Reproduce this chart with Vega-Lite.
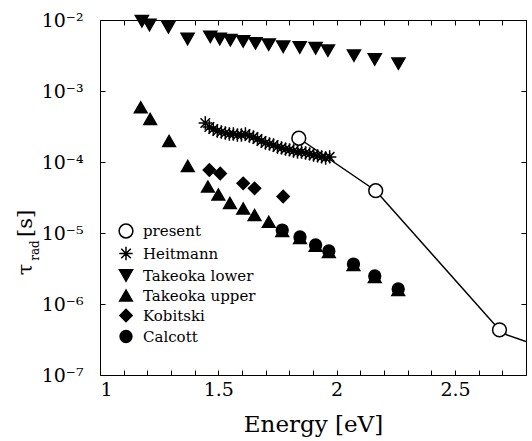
{
  "$schema": "https://vega.github.io/schema/vega-lite/v6.json",
  "width": 426,
  "height": 355,
  "autosize": {"type": "none"},
  "padding": {"left": 100, "top": 20, "right": 6, "bottom": 66},
  "background": "white",
  "config": {
    "font": "DejaVu Serif",
    "view": {"stroke": null},
    "axis": {
      "grid": false,
      "domainColor": "black",
      "domainWidth": 1,
      "tickColor": "black",
      "tickWidth": 1,
      "tickSize": -5,
      "labelColor": "black",
      "labelFont": "DejaVu Serif",
      "labelFontSize": 19,
      "titleColor": "black",
      "titleFont": "DejaVu Serif",
      "titleFontWeight": "normal",
      "labelOverlap": false
    },
    "legend": {"labelFont": "DejaVu Serif"}
  },
  "datasets": {
    "fit": [
      {"E": 1.840, "tau": 2.16e-4},
      {"E": 2.165, "tau": 3.94e-5},
      {"E": 2.688, "tau": 4.31e-7},
      {"E": 2.720, "tau": 3.66e-7},
      {"E": 2.800, "tau": 2.97e-7}
    ],
    "points": [
      {"series": "Takeoka lower", "E": 1.177, "tau": 9.6e-3},
      {"series": "Takeoka lower", "E": 1.209, "tau": 8.5e-3},
      {"series": "Takeoka lower", "E": 1.289, "tau": 7.9e-3},
      {"series": "Takeoka lower", "E": 1.370, "tau": 5.4e-3},
      {"series": "Takeoka lower", "E": 1.466, "tau": 5.8e-3},
      {"series": "Takeoka lower", "E": 1.506, "tau": 5.4e-3},
      {"series": "Takeoka lower", "E": 1.551, "tau": 5.2e-3},
      {"series": "Takeoka lower", "E": 1.605, "tau": 5.0e-3},
      {"series": "Takeoka lower", "E": 1.657, "tau": 4.7e-3},
      {"series": "Takeoka lower", "E": 1.713, "tau": 4.5e-3},
      {"series": "Takeoka lower", "E": 1.774, "tau": 4.2e-3},
      {"series": "Takeoka lower", "E": 1.844, "tau": 4.1e-3},
      {"series": "Takeoka lower", "E": 1.911, "tau": 4.0e-3},
      {"series": "Takeoka lower", "E": 1.963, "tau": 3.7e-3},
      {"series": "Takeoka lower", "E": 2.073, "tau": 3.16e-3},
      {"series": "Takeoka lower", "E": 2.161, "tau": 2.78e-3},
      {"series": "Takeoka lower", "E": 2.261, "tau": 2.43e-3},
      {"series": "Takeoka upper", "E": 1.172, "tau": 5.9e-4},
      {"series": "Takeoka upper", "E": 1.212, "tau": 4.04e-4},
      {"series": "Takeoka upper", "E": 1.292, "tau": 1.98e-4},
      {"series": "Takeoka upper", "E": 1.371, "tau": 8.8e-5},
      {"series": "Takeoka upper", "E": 1.456, "tau": 4.5e-5},
      {"series": "Takeoka upper", "E": 1.500, "tau": 3.48e-5},
      {"series": "Takeoka upper", "E": 1.549, "tau": 2.65e-5},
      {"series": "Takeoka upper", "E": 1.605, "tau": 2.21e-5},
      {"series": "Takeoka upper", "E": 1.653, "tau": 1.79e-5},
      {"series": "Takeoka upper", "E": 1.713, "tau": 1.44e-5},
      {"series": "Takeoka upper", "E": 1.770, "tau": 1.07e-5},
      {"series": "Takeoka upper", "E": 1.845, "tau": 8.5e-6},
      {"series": "Takeoka upper", "E": 1.911, "tau": 6.6e-6},
      {"series": "Takeoka upper", "E": 1.967, "tau": 5.4e-6},
      {"series": "Takeoka upper", "E": 2.071, "tau": 3.54e-6},
      {"series": "Takeoka upper", "E": 2.161, "tau": 2.40e-6},
      {"series": "Takeoka upper", "E": 2.260, "tau": 1.57e-6},
      {"series": "Calcott", "E": 1.770, "tau": 1.10e-5},
      {"series": "Calcott", "E": 1.845, "tau": 8.8e-6},
      {"series": "Calcott", "E": 1.911, "tau": 6.8e-6},
      {"series": "Calcott", "E": 1.967, "tau": 5.6e-6},
      {"series": "Calcott", "E": 2.071, "tau": 3.65e-6},
      {"series": "Calcott", "E": 2.161, "tau": 2.48e-6},
      {"series": "Calcott", "E": 2.260, "tau": 1.63e-6},
      {"series": "Kobitski", "E": 1.462, "tau": 7.7e-5},
      {"series": "Kobitski", "E": 1.508, "tau": 6.9e-5},
      {"series": "Kobitski", "E": 1.605, "tau": 5.0e-5},
      {"series": "Kobitski", "E": 1.653, "tau": 4.26e-5},
      {"series": "Kobitski", "E": 1.774, "tau": 3.27e-5},
      {"series": "Heitmann", "E": 1.4449, "tau": 3.54e-4},
      {"series": "Heitmann", "E": 1.4619, "tau": 3.11e-4},
      {"series": "Heitmann", "E": 1.4788, "tau": 2.92e-4},
      {"series": "Heitmann", "E": 1.4958, "tau": 2.73e-4},
      {"series": "Heitmann", "E": 1.5127, "tau": 2.65e-4},
      {"series": "Heitmann", "E": 1.5297, "tau": 2.56e-4},
      {"series": "Heitmann", "E": 1.5466, "tau": 2.48e-4},
      {"series": "Heitmann", "E": 1.5636, "tau": 2.48e-4},
      {"series": "Heitmann", "E": 1.5805, "tau": 2.40e-4},
      {"series": "Heitmann", "E": 1.5975, "tau": 2.40e-4},
      {"series": "Heitmann", "E": 1.6144, "tau": 2.48e-4},
      {"series": "Heitmann", "E": 1.6314, "tau": 2.32e-4},
      {"series": "Heitmann", "E": 1.6483, "tau": 2.25e-4},
      {"series": "Heitmann", "E": 1.6653, "tau": 2.11e-4},
      {"series": "Heitmann", "E": 1.6822, "tau": 1.98e-4},
      {"series": "Heitmann", "E": 1.6992, "tau": 1.85e-4},
      {"series": "Heitmann", "E": 1.7161, "tau": 1.79e-4},
      {"series": "Heitmann", "E": 1.7331, "tau": 1.74e-4},
      {"series": "Heitmann", "E": 1.7500, "tau": 1.63e-4},
      {"series": "Heitmann", "E": 1.7670, "tau": 1.58e-4},
      {"series": "Heitmann", "E": 1.7839, "tau": 1.52e-4},
      {"series": "Heitmann", "E": 1.8008, "tau": 1.48e-4},
      {"series": "Heitmann", "E": 1.8178, "tau": 1.43e-4},
      {"series": "Heitmann", "E": 1.8347, "tau": 1.38e-4},
      {"series": "Heitmann", "E": 1.8517, "tau": 1.38e-4},
      {"series": "Heitmann", "E": 1.8686, "tau": 1.34e-4},
      {"series": "Heitmann", "E": 1.8856, "tau": 1.30e-4},
      {"series": "Heitmann", "E": 1.9025, "tau": 1.25e-4},
      {"series": "Heitmann", "E": 1.9195, "tau": 1.22e-4},
      {"series": "Heitmann", "E": 1.9364, "tau": 1.18e-4},
      {"series": "Heitmann", "E": 1.9534, "tau": 1.14e-4},
      {"series": "Heitmann", "E": 1.9703, "tau": 1.18e-4},
      {"series": "present", "E": 1.840, "tau": 2.16e-4},
      {"series": "present", "E": 2.165, "tau": 3.94e-5},
      {"series": "present", "E": 2.688, "tau": 4.31e-7}
    ]
  },
  "layer": [
    {
      "data": {"name": "fit"},
      "mark": {"type": "line", "color": "black", "strokeWidth": 1.5, "clip": true},
      "encoding": {
        "x": {
          "field": "E", "type": "quantitative",
          "scale": {"domain": [1, 2.8], "nice": false, "zero": false},
          "axis": {
            "orient": "bottom",
            "values": [1, 1.1, 1.2, 1.3, 1.4, 1.5, 1.6, 1.7, 1.8, 1.9, 2, 2.1, 2.2, 2.3, 2.4, 2.5, 2.6, 2.7, 2.8],
            "labelExpr": "abs(datum.value*2-round(datum.value*2))<0.001 ? format(datum.value,'~g') : ''",
            "labelPadding": 10,
            "title": "Energy [eV]",
            "titleFontSize": 23,
            "titleBaseline": "alphabetic",
            "titleY": 56
          }
        },
        "y": {
          "field": "tau", "type": "quantitative",
          "scale": {"type": "log", "domain": [1e-7, 1e-2], "nice": false},
          "axis": {
            "orient": "left",
            "values": [1e-7, 1e-6, 1e-5, 1e-4, 1e-3, 1e-2],
            "labelExpr": "'10⁻' + ['', '¹', '²', '³', '⁴', '⁵', '⁶', '⁷'][round(-log(datum.value)/LN10)]",
            "labelPadding": 22,
            "title": "τ\u00a0\u00a0\u00a0\u00a0[s]",
            "titleFontSize": 21,
            "titleAngle": -90,
            "titleBaseline": "middle",
            "titleAlign": "center",
            "titleX": -75,
            "titleY": 222
          }
        }
      }
    },
    {
      "data": {"name": "points"},
      "mark": {"type": "point", "stroke": "black", "strokeWidth": 1.5, "opacity": 1},
      "encoding": {
        "x": {
          "field": "E", "type": "quantitative",
          "scale": {"domain": [1, 2.8], "nice": false, "zero": false},
          "axis": {
            "orient": "top",
            "values": [1, 1.1, 1.2, 1.3, 1.4, 1.5, 1.6, 1.7, 1.8, 1.9, 2, 2.1, 2.2, 2.3, 2.4, 2.5, 2.6, 2.7, 2.8],
            "labels": false,
            "title": null
          }
        },
        "y": {
          "field": "tau", "type": "quantitative",
          "scale": {"type": "log", "domain": [1e-7, 1e-2], "nice": false},
          "axis": {
            "orient": "right",
            "values": [1e-7, 1e-6, 1e-5, 1e-4, 1e-3, 1e-2],
            "labels": false,
            "title": "rad",
            "titleFontSize": 12,
            "titleAngle": -90,
            "titleBaseline": "middle",
            "titleAlign": "center",
            "titleX": -492,
            "titleY": 230
          }
        },
        "shape": {
          "field": "series", "type": "nominal",
          "scale": {
            "domain": ["present", "Heitmann", "Takeoka lower", "Takeoka upper", "Kobitski", "Calcott"],
            "range": ["circle", "M-1,0L1,0M0,-1L0,1M-0.71,-0.71L0.71,0.71M-0.71,0.71L0.71,-0.71", "triangle-down", "triangle-up", "diamond", "circle"]
          },
          "legend": {
            "orient": "none",
            "legendX": 18,
            "legendY": 203,
            "title": null,
            "labelFont": "DejaVu Serif",
            "labelFontSize": 15,
            "labelColor": "black",
            "labelOffset": 9,
            "rowPadding": 2,
            "padding": 0,
            "symbolStrokeColor": "black",
            "symbolStrokeWidth": 1.5
          }
        },
        "fill": {
          "field": "series", "type": "nominal",
          "scale": {
            "domain": ["present", "Heitmann", "Takeoka lower", "Takeoka upper", "Kobitski", "Calcott"],
            "range": ["white", "black", "black", "black", "black", "black"]
          },
          "legend": {"title": null}
        },
        "size": {
          "field": "series", "type": "nominal",
          "scale": {
            "domain": ["present", "Heitmann", "Takeoka lower", "Takeoka upper", "Kobitski", "Calcott"],
            "range": [190, 140, 160, 180, 140, 150]
          },
          "legend": {"title": null}
        }
      }
    }
  ],
  "resolve": {"axis": {"x": "independent", "y": "independent"}}
}
